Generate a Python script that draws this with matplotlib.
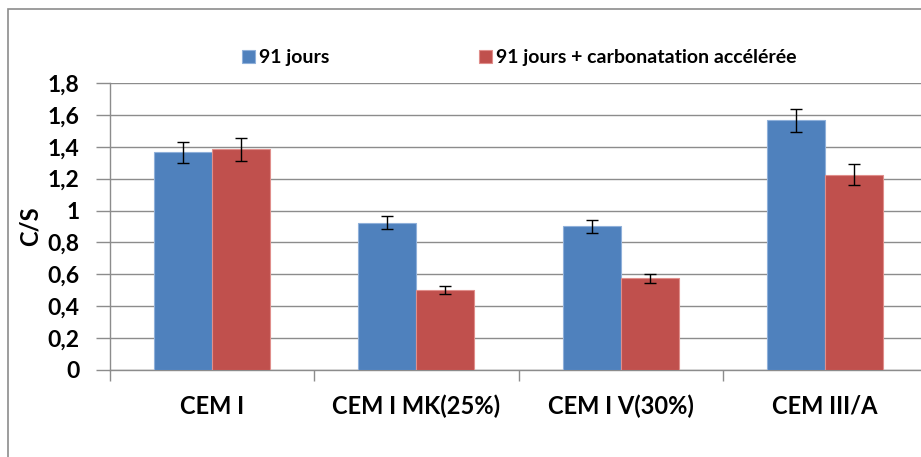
import numpy as np
import matplotlib
matplotlib.use("Agg")
import matplotlib.pyplot as plt
from matplotlib.patches import Rectangle

# données
categories = ["CEM I", "CEM I MK(25%)", "CEM I V(30%)", "CEM III/A"]
series_names = ["91 jours", "91 jours + carbonatation accélérée"]
val_91 = [1.365, 0.925, 0.900, 1.565]
err_91 = [0.065, 0.038, 0.040, 0.075]
val_carb = [1.385, 0.500, 0.575, 1.225]
err_carb = [0.072, 0.024, 0.030, 0.065]
yticks = [0, 0.2, 0.4, 0.6, 0.8, 1.0, 1.2, 1.4, 1.6, 1.8]
ytick_labels = ["0", "0,2", "0,4", "0,6", "0,8", "1", "1,2", "1,4", "1,6", "1,8"]

plt.rcParams["font.family"] = ["Lato", "DejaVu Sans"]

W, H = 921, 457
fig = plt.figure(figsize=(W / 100, H / 100), dpi=100)

# cadre gris du graphique (coupé à droite et en bas)
fig.patches.append(Rectangle((8 / W, -0.1), 1.2, 1 - 9 / H + 0.1,
                             transform=fig.transFigure, fill=False,
                             edgecolor="#8c8c8c", linewidth=1.2))

ax_left, ax_right = 110, 927
ax_bottom, ax_top = 370, 83
ax = fig.add_axes([ax_left / W, 1 - ax_bottom / H,
                   (ax_right - ax_left) / W, (ax_bottom - ax_top) / H])

x = np.arange(len(categories))
w = 0.284
blue, red = "#4F81BD", "#C0504D"
ax.bar(x - w / 2, val_91, w, color=blue, edgecolor="#8fb0da", linewidth=0.8,
       label=series_names[0], zorder=3)
ax.bar(x + w / 2, val_carb, w, color=red, edgecolor="#e08e8b", linewidth=0.8,
       label=series_names[1], zorder=3)
ax.errorbar(x - w / 2, val_91, yerr=err_91, fmt="none", ecolor="black",
            elinewidth=1, capsize=4, capthick=1, zorder=4)
ax.errorbar(x + w / 2, val_carb, yerr=err_carb, fmt="none", ecolor="black",
            elinewidth=1, capsize=4, capthick=1, zorder=4)

ax.set_xlim(-0.5, len(categories) - 0.5)
ax.set_ylim(0, 1.8)
ax.set_yticks(yticks)
ax.set_yticklabels(ytick_labels, fontsize=16.5, fontweight="bold")
ax.yaxis.grid(True, color="#8c8c8c", linewidth=1, zorder=0)
ax.set_axisbelow(True)

ax.set_xticks(np.arange(len(categories) + 1) - 0.5)
ax.set_xticklabels([])
ax.set_xticks(x, minor=True)
ax.set_xticklabels(categories, minor=True, fontsize=17, fontweight="bold")
ax.tick_params(axis="x", which="minor", length=0, pad=18)
ax.tick_params(axis="x", which="major", length=8, color="#8c8c8c", width=1)
ax.tick_params(axis="y", length=10, color="#8c8c8c", width=1, pad=12)

for side in ["top", "right"]:
    ax.spines[side].set_visible(False)
for side in ["left", "bottom"]:
    ax.spines[side].set_color("#8c8c8c")
    ax.spines[side].set_linewidth(1)

ax.set_ylabel("C/S", fontsize=17, fontweight="bold", labelpad=4)

fig.legend(loc="center", bbox_to_anchor=(0.564, 1 - 58 / H), ncol=2,
           frameon=False, handlelength=0.67, handleheight=0.67,
           handletextpad=0.2, columnspacing=7.7,
           prop={"size": 14, "weight": "bold"})

fig.savefig("out.png", dpi=100)
